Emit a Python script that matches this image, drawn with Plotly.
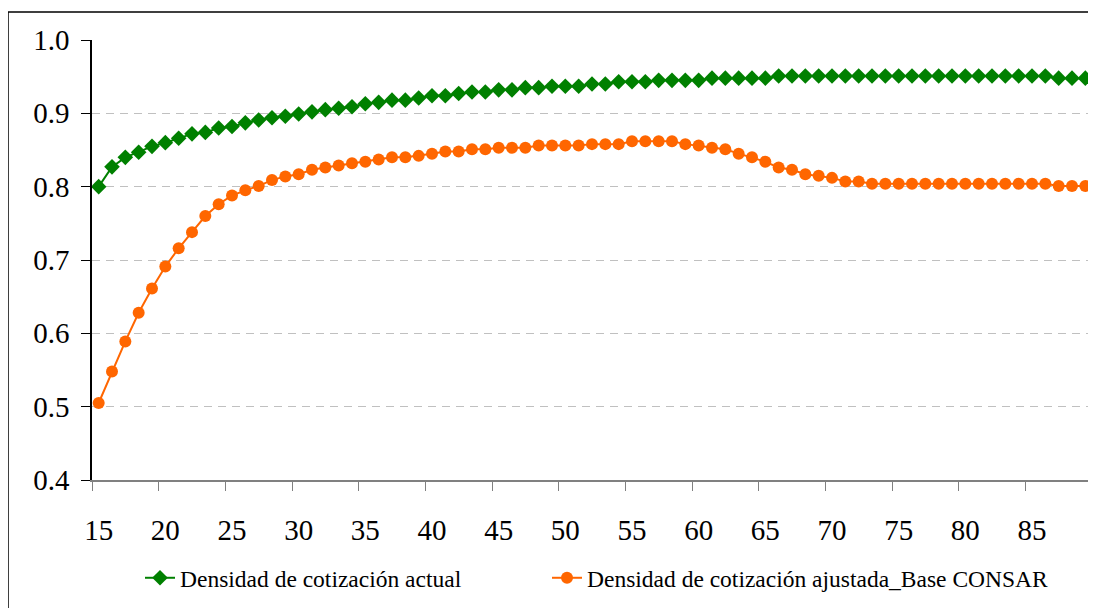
import plotly.graph_objects as go

ages = list(range(15, 90))

actual = [
    0.800, 0.827, 0.840, 0.847, 0.855, 0.860, 0.866, 0.872, 0.874, 0.880,  # 15-24
    0.882, 0.887, 0.891, 0.894, 0.896, 0.899, 0.902, 0.905, 0.907, 0.909,  # 25-34
    0.913, 0.915, 0.918, 0.918, 0.921, 0.924, 0.924, 0.927, 0.929, 0.929,  # 35-44
    0.932, 0.932, 0.935, 0.935, 0.937, 0.937, 0.937, 0.940, 0.940, 0.943,  # 45-54
    0.943, 0.943, 0.945, 0.945, 0.945, 0.945, 0.948, 0.948, 0.948, 0.948,  # 55-64
    0.948, 0.951, 0.951, 0.951, 0.951, 0.951, 0.951, 0.951, 0.951, 0.951,  # 65-74
    0.951, 0.951, 0.951, 0.951, 0.951, 0.951, 0.951, 0.951, 0.951, 0.951,  # 75-84
    0.951, 0.951, 0.948, 0.948, 0.948,                                      # 85-89
]

ajustada = [
    0.505, 0.548, 0.589, 0.628, 0.661, 0.691, 0.716, 0.738, 0.760, 0.776,  # 15-24
    0.788, 0.795, 0.801, 0.809, 0.814, 0.817, 0.823, 0.826, 0.829, 0.832,  # 25-34
    0.834, 0.837, 0.840, 0.840, 0.842, 0.845, 0.848, 0.848, 0.851, 0.851,  # 35-44
    0.853, 0.853, 0.853, 0.856, 0.856, 0.856, 0.856, 0.858, 0.858, 0.858,  # 45-54
    0.862, 0.862, 0.862, 0.862, 0.858, 0.856, 0.853, 0.851, 0.845, 0.840,  # 55-64
    0.834, 0.826, 0.823, 0.817, 0.815, 0.812, 0.807, 0.807, 0.804, 0.804,  # 65-74
    0.804, 0.804, 0.804, 0.804, 0.804, 0.804, 0.804, 0.804, 0.804, 0.804,  # 75-84
    0.804, 0.804, 0.801, 0.801, 0.801,                                      # 85-89
]

x_tick_vals = list(range(15, 90, 5))
x_tick_text = [str(v) for v in x_tick_vals]
y_tick_vals = [0.4, 0.5, 0.6, 0.7, 0.8, 0.9, 1.0]
y_tick_text = ["0.4", "0.5", "0.6", "0.7", "0.8", "0.9", "1.0"]

name_actual = "Densidad de cotización actual"
name_ajustada = "Densidad de cotización ajustada_Base CONSAR"

FONT = "Liberation Serif"
OFF = 8  # page body margin
W, H = 1096 - OFF, 608 - OFF
# plot area in screen pixels: left 92, right 1092, top 40, bottom 480
L = 92 - OFF
T = 40 - OFF
R = W - (1092 - OFF)
B = H - (480 - OFF)

fig = go.Figure()
fig.add_trace(go.Scatter(
    x=ages, y=actual, name=name_actual, mode="lines+markers",
    line=dict(color="#008000", width=2),
    marker=dict(symbol="diamond", size=12, color="#008000"),
    legend="legend",
))
fig.add_trace(go.Scatter(
    x=ages, y=ajustada, name=name_ajustada, mode="lines+markers",
    line=dict(color="#FF6600", width=2),
    marker=dict(symbol="circle", size=12, color="#FF6600"),
    legend="legend2",
))

pw = W - L - R
ph = H - T - B

def px_x(p):  # screen px -> paper
    return (p - OFF - L) / pw

def px_y(p):
    return (H - B - (p - OFF)) / ph

fig.update_layout(
    width=W, height=H,
    margin=dict(l=L, r=R, t=T, b=B, autoexpand=False),
    paper_bgcolor="white", plot_bgcolor="white",
    font=dict(family=FONT, color="black", size=28),
    showlegend=True,
    legend=dict(
        x=px_x(140), y=px_y(578), xanchor="left", yanchor="middle",
        font=dict(family=FONT, size=23.5, color="black"),
        bgcolor="rgba(0,0,0,0)", borderwidth=0,
    ),
    legend2=dict(
        x=px_x(547), y=px_y(578), xanchor="left", yanchor="middle",
        font=dict(family=FONT, size=23.5, color="black"),
        bgcolor="rgba(0,0,0,0)", borderwidth=0,
    ),
    xaxis=dict(
        range=[14.5, 89.5],
        tickmode="array", tickvals=x_tick_vals, ticktext=x_tick_text,
        ticks="", showgrid=False, zeroline=False,
        showline=True, linecolor="#808080", linewidth=1.5,
        ticklabelstandoff=23,
        tickfont=dict(family=FONT, size=29, color="black"),
        minor=dict(tickmode="linear", tick0=14.5, dtick=5, ticks="outside",
                   ticklen=9, tickcolor="#808080", tickwidth=1.2, showgrid=False),
    ),
    yaxis=dict(
        range=[0.4, 1.0],
        tickmode="array", tickvals=y_tick_vals, ticktext=y_tick_text,
        ticks="outside", ticklen=9, tickcolor="black", tickwidth=1.2,
        showline=True, linecolor="black", linewidth=1.5,
        showgrid=True, gridcolor="#C0C0C0", griddash="8px,6px", gridwidth=1,
        zeroline=False,
        ticklabelstandoff=6,
        tickfont=dict(family=FONT, size=29, color="black"),
    ),
    shapes=[dict(
        type="rect", xref="paper", yref="paper",
        x0=px_x(8), x1=px_x(1120), y0=px_y(630), y1=px_y(12),
        line=dict(color="black", width=1.5), fillcolor="rgba(0,0,0,0)", layer="below",
    )],
    annotations=[dict(
        text="<b>y</b>", xref="paper", yref="paper",
        x=px_x(405), y=px_y(-12), xanchor="center", yanchor="middle",
        showarrow=False, font=dict(family=FONT, size=26, color="black"),
    )],
)

fig.write_html("out.html")
